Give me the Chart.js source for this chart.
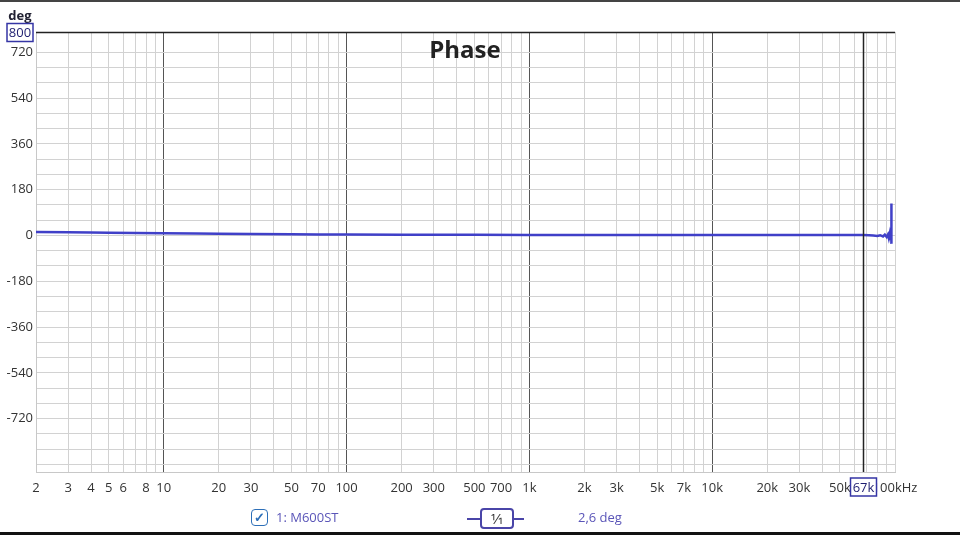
<!DOCTYPE html>
<html>
<head>
<meta charset="utf-8">
<script src="https://cdn.jsdelivr.net/npm/chart.js@4"></script>
<style>
  body { margin: 0; background: #fff; }
  #wrap { position: relative; width: 960px; height: 535px; }
  .leg { position: absolute; top: 508px; font: 13px "Open Sans", sans-serif; color: #5a55b8; }
</style>
</head>
<body>
<div id="wrap">
  <canvas id="phaseChart"></canvas>
  <div class="leg" style="left:251px;top:509px;width:15px;height:15px;border:1.5px solid #2d6fb8;border-radius:4px;color:#2d6fb8;font-size:13px;line-height:15px;text-align:center;font-weight:bold">&#10003;</div>
  <div class="leg" style="left:276px">1: M600ST</div>
  <div class="leg" style="left:467px;top:518px;width:57px;height:1.5px;background:#4a45a8"></div>
  <div class="leg" style="left:480px;top:508px;width:30px;height:17px;border:2px solid #4a45a8;border-radius:4px;background:#fff;color:#333;text-align:center;line-height:17px;font-size:15px">1&#8260;1</div>
  <div class="leg" style="left:578px">2,6 deg</div>
</div>
<script>
// frequency points (Hz) and measured phase (deg)
let freqHz = [2, 3, 4, 5, 7, 10, 15, 20, 30, 50, 70, 100, 200, 500, 1000, 2000, 5000, 10000, 20000, 40000, 60000, 67000,
  72000, 76000, 80000, 83000, 86000, 88000, 90000, 91500, 92500, 93500, 94300, 95000, 95400, 95500, 95600, 95700];
let phaseDeg = [14, 13, 12, 11, 10, 9, 8, 7, 6, 5, 4, 3.5, 3, 2.5, 2, 2, 2, 2, 2, 2, 2, 2,
  1, 0, -2, 1, -4, 3, -6, 4, -10, 6, -14, -8, 10, 126, -33, 0];

let xTicks = [2, 3, 4, 5, 6, 7, 8, 9, 10, 20, 30, 40, 50, 60, 70, 80, 90, 100, 200, 300, 400, 500, 600, 700, 800, 900,
  1000, 2000, 3000, 4000, 5000, 6000, 7000, 8000, 9000, 10000, 20000, 30000, 40000, 50000, 60000, 70000, 80000, 90000, 100000];
let xLabels = {2: "2", 3: "3", 4: "4", 5: "5", 6: "6", 8: "8", 10: "10", 20: "20", 30: "30", 50: "50", 70: "70", 100: "100",
  200: "200", 300: "300", 500: "500", 700: "700", 1000: "1k", 2000: "2k", 3000: "3k", 5000: "5k", 7000: "7k",
  10000: "10k", 20000: "20k", 30000: "30k", 50000: "50k", 100000: "100kHz"};
let decades = [10, 100, 1000, 10000];

let yTicks = [];
for (let v = -900; v <= 720; v += 60) yTicks.push(v);
yTicks.push(800);
let yLabels = [720, 540, 360, 180, 0, -180, -360, -540, -720];

let cursorFreq = 67000;
let cursorDeg = 800;

const font = "Open Sans, Noto Sans, sans-serif";

const overlay = {
  id: "overlay",
  beforeDraw(chart) {
    let c = chart.ctx;
    c.save();
    c.fillStyle = "#fff";
    c.fillRect(0, 0, chart.width, chart.height);
    c.restore();
  },
  afterDraw(chart) {
    let c = chart.ctx;
    let a = chart.chartArea;
    let xs = chart.scales.x, ys = chart.scales.y;
    c.save();
    // page frame
    c.fillStyle = "#444";
    c.fillRect(0, 0, chart.width, 2);
    c.fillStyle = "#111";
    c.fillRect(0, chart.height - 3, chart.width, 3);
    // cursors
    let cx = Math.round(xs.getPixelForValue(cursorFreq)) + 0.5;
    let cy = Math.round(ys.getPixelForValue(cursorDeg)) + 0.5;
    c.strokeStyle = "#222";
    c.lineWidth = 1.5;
    c.beginPath();
    c.moveTo(cx, a.top); c.lineTo(cx, a.bottom);
    c.moveTo(a.left, cy); c.lineTo(a.right, cy);
    c.stroke();
    // title
    c.fillStyle = "#222";
    c.font = "bold 24px " + font;
    c.textAlign = "center";
    c.textBaseline = "middle";
    c.fillText("Phase", 465, 51);
    // unit
    c.font = "bold 13px " + font;
    c.fillStyle = "#223";
    c.fillText("deg", 20, 16);
    // boxes
    function box(x, y, w, h, txt) {
      c.fillStyle = "#fff";
      c.fillRect(x, y, w, h);
      c.strokeStyle = "#3535a5";
      c.lineWidth = 1.5;
      c.strokeRect(x, y, w, h);
      c.fillStyle = "#1e1e70";
      c.font = "13px " + font;
      c.fillText(txt, x + w / 2, y + h / 2 + 1);
    }
    box(7, cy - 9, 26, 18, "800");
    box(cx - 13, 478, 26, 18, "67k");
    c.restore();
  }
};

new Chart(document.getElementById("phaseChart"), {
  type: "line",
  data: {
    datasets: [{
      data: freqHz.map((f, i) => ({x: f, y: phaseDeg[i]})),
      borderColor: "#4040c8",
      borderWidth: 2.5,
      pointRadius: 0,
      tension: 0
    }]
  },
  options: {
    responsive: true,
    maintainAspectRatio: false,
    animation: false,
    layout: {padding: {top: 32, right: 65, left: 0, bottom: 0}},
    plugins: {legend: {display: false}, tooltip: {enabled: false}},
    scales: {
      x: {
        type: "logarithmic",
        min: 2, max: 100000,
        afterBuildTicks: s => { s.ticks = xTicks.map(v => ({value: v})); },
        afterFit: s => { s.height = 63; },
        grid: {
          drawTicks: false,
          color: ctx => decades.includes(ctx.tick && ctx.tick.value) ? "#555" : "#d2d2d2",
          lineWidth: 1
        },
        border: {display: true, color: "#c8c8c8"},
        ticks: {
          autoSkip: false, maxRotation: 0, padding: 8,
          color: "#333", font: {family: font, size: 13},
          callback: v => xLabels[v] || ""
        }
      },
      y: {
        min: -930, max: 800,
        afterBuildTicks: s => { s.ticks = yTicks.map(v => ({value: v})); },
        afterFit: s => { s.width = 36; },
        grid: {drawTicks: false, color: "#d2d2d2", lineWidth: 1},
        border: {display: true, color: "#c8c8c8"},
        ticks: {
          autoSkip: false, padding: 3, color: "#333", font: {family: font, size: 13},
          callback: v => yLabels.includes(v) ? String(v) : ""
        }
      }
    }
  },
  plugins: [overlay]
});
</script>
</body>
</html>
